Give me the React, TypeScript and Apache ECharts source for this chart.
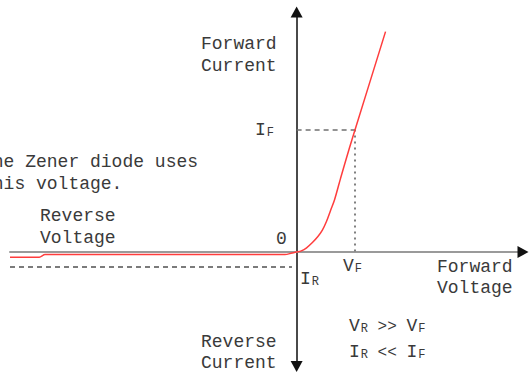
import React, { useEffect, useRef } from 'react';
import * as echarts from 'echarts';

// Diode I-V characteristic (schematic units: VF = 1, IF = 1)
const voltage = [-4.9, -4.4, -4.3, -0.2, -0.08, 0, 0.08, 0.17, 0.27, 0.36, 0.44, 0.51, 0.58, 0.65, 0.75, 0.9, 1.0, 1.52];
const current = [-0.042, -0.042, -0.02, -0.02, -0.008, 0, 0.01, 0.035, 0.078, 0.125, 0.18, 0.25, 0.34, 0.43, 0.6, 0.845, 1.0, 1.8];

const X_MIN = -4.9;
const X_MAX = 3.87;
const Y_MIN = -0.935;
const Y_MAX = 1.96;

const VF = 1.0;
const IF = 1.0;
const IR = -0.118;
const IR_END = -0.08;

const FONT = '"Liberation Mono", "DejaVu Sans Mono", monospace';
const TXT = '#3a3a3a';

export default function App() {
  const ref = useRef<HTMLDivElement>(null);

  useEffect(() => {
    if (!ref.current) return;
    const chart = echarts.init(ref.current, null, { renderer: 'svg' });

    const pts = voltage.map((v, i) => [v, current[i]]);

    const plain = (text: string, x: number, y: number, size = 18) => ({
      type: 'text',
      x,
      y,
      silent: true,
      z: 10,
      style: { text, fontFamily: FONT, fontSize: size, fill: TXT, verticalAlign: 'middle', align: 'left' },
    });

    const sub = (text: string, x: number, y: number) => ({
      type: 'text',
      x,
      y,
      silent: true,
      z: 10,
      style: {
        text,
        fill: TXT,
        verticalAlign: 'middle',
        align: 'left',
        rich: {
          b: { fontFamily: FONT, fontSize: 18, fill: TXT, verticalAlign: 'bottom', lineHeight: 20 },
          s: { fontFamily: FONT, fontSize: 12, fill: TXT, verticalAlign: 'bottom', lineHeight: 20, padding: [0, 0, 0, 1] },
          n: { fontFamily: FONT, fontSize: 16, fill: TXT, verticalAlign: 'bottom', lineHeight: 20 },
        },
      },
    });

    chart.setOption({
      animation: false,
      backgroundColor: '#ffffff',
      grid: { left: 10, right: 7, top: 12, bottom: 11.4, containLabel: false },
      xAxis: {
        type: 'value',
        min: X_MIN,
        max: X_MAX,
        axisLine: { show: true, onZero: true, lineStyle: { color: '#9a9a9a', width: 2 } },
        axisTick: { show: false },
        axisLabel: { show: false },
        splitLine: { show: false },
      },
      yAxis: {
        type: 'value',
        min: Y_MIN,
        max: Y_MAX,
        axisLine: { show: true, onZero: true, lineStyle: { color: '#4a4a4a', width: 2 } },
        axisTick: { show: false },
        axisLabel: { show: false },
        splitLine: { show: false },
      },
      series: [
        {
          type: 'line',
          data: pts,
          symbol: 'none',
          smooth: 0.3,
          clip: false,
          z: 5,
          lineStyle: { color: '#ff3d3d', width: 1.5 },
          markLine: {
            silent: true,
            symbol: ['none', 'none'],
            label: { show: false },
            data: [
              [
                { coord: [0, IF], lineStyle: { color: '#707070', width: 1.5, type: [5, 4] } },
                { coord: [VF, IF] },
              ],
              [
                { coord: [VF, IF], lineStyle: { color: '#808080', width: 2, type: [2, 4] } },
                { coord: [VF, 0] },
              ],
              [
                { coord: [X_MIN, IR], lineStyle: { color: '#505050', width: 1.5, type: [5, 4] } },
                { coord: [IR_END, IR] },
              ],
            ],
          },
          markPoint: {
            silent: true,
            symbol: 'triangle',
            symbolSize: [12, 11],
            itemStyle: { color: '#111111' },
            label: { show: false },
            data: [
              { coord: [X_MAX, 0], symbolRotate: -90 },
              { coord: [0, Y_MAX], symbolRotate: 0 },
              { coord: [0, Y_MIN], symbolRotate: 180 },
            ],
          },
        },
      ],
      graphic: [
        plain('Forward', 201, 44),
        plain('Current', 201, 66),
        plain('The Zener diode uses', -18, 162),
        plain('this voltage.', -18, 184),
        plain('Reverse', 40, 216),
        plain('Voltage', 40, 238),
        plain('0', 276, 239),
        plain('Forward', 437, 267),
        plain('Voltage', 437, 288),
        plain('Reverse', 201, 342),
        plain('Current', 201, 363),
        sub('{b|I}{s|F}', 255, 129),
        sub('{b|V}{s|F}', 343, 265),
        sub('{b|I}{s|R}', 300, 278),
        sub('{b|V}{s|R}{n| >> }{b|V}{s|F}', 349, 325),
        sub('{b|I}{s|R}{n| << }{b|I}{s|F}', 349, 351),
      ],
    });

    return () => chart.dispose();
  }, []);

  return (
    <div
      ref={ref}
      style={{ position: 'absolute', left: 0, top: 0, width: 530, height: 378, background: '#fff' }}
    />
  );
}
